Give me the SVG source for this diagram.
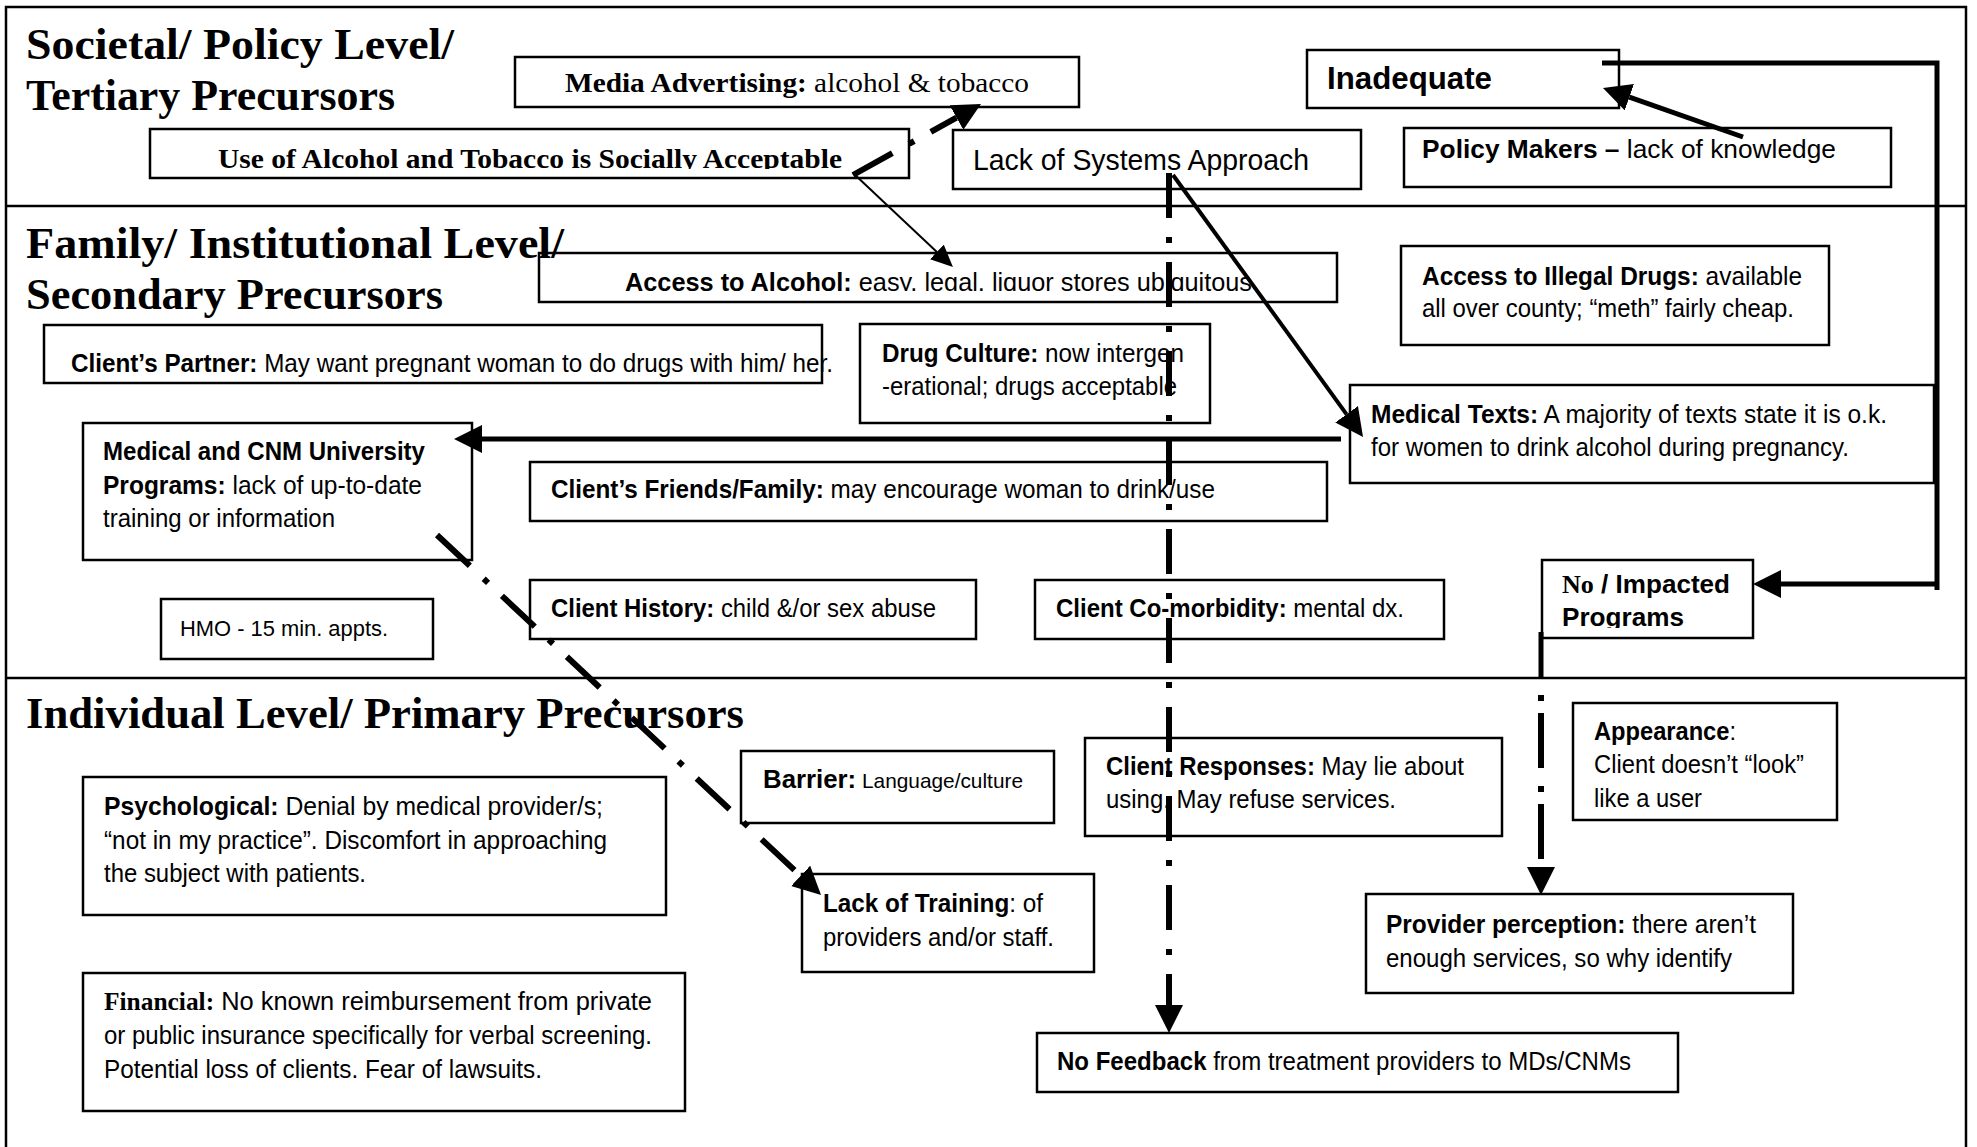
<svg xmlns="http://www.w3.org/2000/svg" width="1977" height="1147" viewBox="0 0 1977 1147">
<style>
.box{fill:#fff;stroke:#000;stroke-width:2.5}
.frame{fill:none;stroke:#000;stroke-width:2.5}
.title{font-family:"Liberation Serif","Times New Roman",serif;font-weight:bold;font-size:44px;fill:#000}
.t{font-family:"Liberation Sans",Arial,sans-serif;font-size:26px;fill:#000}
.b{font-family:"Liberation Sans",Arial,sans-serif;font-weight:bold}
.r{font-family:"Liberation Sans Narrow","Liberation Sans",Arial,sans-serif;font-weight:normal}
.sb{font-family:"Liberation Serif","Times New Roman",serif;font-weight:bold}
.sr{font-family:"Liberation Serif","Times New Roman",serif;font-weight:normal}
.solid{fill:none;stroke:#000;stroke-width:5}
.dd{fill:none;stroke:#000;stroke-width:6;stroke-dasharray:45 19 6 19}
.thin{fill:none;stroke:#000;stroke-width:2}
</style>
<defs>
<marker id="ah" markerUnits="userSpaceOnUse" viewBox="0 0 28 28" markerWidth="28" markerHeight="28" refX="0" refY="14" orient="auto"><path d="M0,0 L28,14 L0,28 z" fill="#000"/></marker>
<marker id="ahs" markerUnits="userSpaceOnUse" viewBox="0 0 22 20" markerWidth="22" markerHeight="20" refX="0" refY="10" orient="auto"><path d="M0,0 L22,10 L0,20 z" fill="#000"/></marker>
<clipPath id="clipUse"><rect x="150" y="129" width="759" height="40"/></clipPath>
<clipPath id="clipAcc"><rect x="539" y="253" width="798" height="38"/></clipPath>
<clipPath id="clipProg"><rect x="1542" y="560" width="211" height="68"/></clipPath>
</defs>

<g id="frame">
<path class="frame" d="M6,1147 V7 H1966 V1147"/>
<line class="frame" x1="6" y1="206" x2="1966" y2="206"/>
<line class="frame" x1="6" y1="678" x2="1966" y2="678"/>
</g>

<g id="n-media"><rect class="box" x="515" y="57" width="564" height="50"/>
<text class="t" x="565" y="92" textLength="464" lengthAdjust="spacingAndGlyphs" style="font-size:28px"><tspan class="sb">Media Advertising:</tspan><tspan class="sr"> alcohol &amp; tobacco</tspan></text></g>

<g id="n-use"><rect class="box" x="150" y="129" width="759" height="49"/>
<text class="t sb" x="218" y="168" textLength="624" lengthAdjust="spacingAndGlyphs" style="font-size:28px" clip-path="url(#clipUse)">Use of Alcohol and Tobacco is Socially Acceptable</text></g>

<g id="n-systems"><rect class="box" x="953" y="130" width="408" height="59"/>
<text class="t r" x="973" y="170" textLength="336" lengthAdjust="spacingAndGlyphs" style="font-size:30px">Lack of Systems Approach</text></g>

<g id="n-inadequate"><rect class="box" x="1307" y="50" width="312" height="58"/>
<text class="t b" x="1327" y="89" textLength="165" lengthAdjust="spacingAndGlyphs" style="font-size:31px">Inadequate</text></g>

<g id="n-policy"><rect class="box" x="1404" y="128" width="487" height="59"/>
<text class="t" x="1422" y="158" textLength="414" lengthAdjust="spacingAndGlyphs"><tspan class="b">Policy Makers – </tspan><tspan class="r">lack of knowledge</tspan></text></g>

<g id="n-access-alcohol"><rect class="box" x="539" y="253" width="798" height="49"/>
<text class="t" x="625" y="291" textLength="627" lengthAdjust="spacingAndGlyphs" clip-path="url(#clipAcc)"><tspan class="b">Access to Alcohol:</tspan><tspan class="r">  easy, legal, liquor stores ubiquitous</tspan></text></g>

<g id="n-access-drugs"><rect class="box" x="1401" y="246" width="428" height="99"/>
<text class="t" x="1422" y="285" textLength="380" lengthAdjust="spacingAndGlyphs"><tspan class="b">Access to Illegal Drugs:</tspan><tspan class="r">  available</tspan></text>
<text class="t r" x="1422" y="317" textLength="372" lengthAdjust="spacingAndGlyphs">all over county; “meth” fairly cheap.</text></g>

<g id="n-partner"><rect class="box" x="44" y="325" width="778" height="58"/>
<text class="t" x="71" y="372" textLength="762" lengthAdjust="spacingAndGlyphs"><tspan class="b">Client’s Partner:</tspan><tspan class="r">  May want pregnant woman to do drugs with him/ her.</tspan></text></g>

<g id="n-drugculture"><rect class="box" x="860" y="324" width="350" height="99"/>
<text class="t" x="882" y="362" textLength="302" lengthAdjust="spacingAndGlyphs"><tspan class="b">Drug Culture:</tspan><tspan class="r">  now intergen</tspan></text>
<text class="t r" x="882" y="395" textLength="295" lengthAdjust="spacingAndGlyphs">-erational; drugs acceptable</text></g>

<g id="n-medtexts"><rect class="box" x="1350" y="385" width="584" height="98"/>
<text class="t" x="1371" y="423" textLength="516" lengthAdjust="spacingAndGlyphs"><tspan class="b">Medical Texts:</tspan><tspan class="r">  A majority of texts state it is o.k.</tspan></text>
<text class="t r" x="1371" y="456" textLength="478" lengthAdjust="spacingAndGlyphs">for women to drink alcohol during pregnancy.</text></g>

<g id="n-cnm"><rect class="box" x="83" y="423" width="389" height="137"/>
<text class="t b" x="103" y="460" textLength="322" lengthAdjust="spacingAndGlyphs">Medical and CNM University</text>
<text class="t" x="103" y="494" textLength="319" lengthAdjust="spacingAndGlyphs"><tspan class="b">Programs:</tspan><tspan class="r">  lack of up-to-date</tspan></text>
<text class="t r" x="103" y="527" textLength="232" lengthAdjust="spacingAndGlyphs">training or information</text></g>

<g id="n-friends"><rect class="box" x="530" y="462" width="797" height="59"/>
<text class="t" x="551" y="498" textLength="664" lengthAdjust="spacingAndGlyphs"><tspan class="b">Client’s Friends/Family:</tspan><tspan class="r">  may encourage woman to drink/use</tspan></text></g>

<g id="n-hmo"><rect class="box" x="161" y="599" width="272" height="60"/>
<text class="t r" x="180" y="636" textLength="208" lengthAdjust="spacingAndGlyphs" style="font-size:22px">HMO - 15 min. appts.</text></g>

<g id="n-history"><rect class="box" x="530" y="580" width="446" height="59"/>
<text class="t" x="551" y="617" textLength="385" lengthAdjust="spacingAndGlyphs"><tspan class="b">Client History:</tspan><tspan class="r"> child &amp;/or sex abuse</tspan></text></g>

<g id="n-comorbidity"><rect class="box" x="1035" y="580" width="409" height="59"/>
<text class="t" x="1056" y="617" textLength="348" lengthAdjust="spacingAndGlyphs"><tspan class="b">Client Co-morbidity:</tspan><tspan class="r"> mental dx.</tspan></text></g>

<g id="n-programs"><rect class="box" x="1542" y="560" width="211" height="78"/>
<text class="t" x="1562" y="593" textLength="168" lengthAdjust="spacingAndGlyphs"><tspan class="sb">No</tspan><tspan class="b"> / Impacted</tspan></text>
<text class="t b" x="1562" y="626" textLength="122" lengthAdjust="spacingAndGlyphs" clip-path="url(#clipProg)">Programs</text></g>

<g id="n-barrier"><rect class="box" x="741" y="751" width="313" height="72"/>
<text class="t" x="763" y="788" textLength="260" lengthAdjust="spacingAndGlyphs"><tspan class="b">Barrier:</tspan><tspan class="r" style="font-size:21px"> Language/culture</tspan></text></g>

<g id="n-responses"><rect class="box" x="1085" y="738" width="417" height="98"/>
<text class="t" x="1106" y="775" textLength="358" lengthAdjust="spacingAndGlyphs"><tspan class="b">Client Responses:</tspan><tspan class="r"> May lie about</tspan></text>
<text class="t r" x="1106" y="808" textLength="290" lengthAdjust="spacingAndGlyphs">using. May refuse services.</text></g>

<g id="n-appearance"><rect class="box" x="1573" y="703" width="264" height="117"/>
<text class="t" x="1594" y="740" textLength="142" lengthAdjust="spacingAndGlyphs"><tspan class="b">Appearance</tspan><tspan class="r">:</tspan></text>
<text class="t r" x="1594" y="773" textLength="210" lengthAdjust="spacingAndGlyphs">Client doesn’t “look”</text>
<text class="t r" x="1594" y="807" textLength="108" lengthAdjust="spacingAndGlyphs">like a user</text></g>

<g id="n-psych"><rect class="box" x="83" y="777" width="583" height="138"/>
<text class="t" x="104" y="815" textLength="499" lengthAdjust="spacingAndGlyphs"><tspan class="b">Psychological:</tspan><tspan class="r">   Denial by medical provider/s;</tspan></text>
<text class="t r" x="104" y="849" textLength="503" lengthAdjust="spacingAndGlyphs">“not in my practice”.  Discomfort in approaching</text>
<text class="t r" x="104" y="882" textLength="262" lengthAdjust="spacingAndGlyphs">the subject with patients.</text></g>

<g id="n-training"><rect class="box" x="802" y="874" width="292" height="98"/>
<text class="t" x="823" y="912" textLength="220" lengthAdjust="spacingAndGlyphs"><tspan class="b">Lack of Training</tspan><tspan class="r">: of</tspan></text>
<text class="t r" x="823" y="946" textLength="231" lengthAdjust="spacingAndGlyphs">providers and/or staff.</text></g>

<g id="n-provider"><rect class="box" x="1366" y="894" width="427" height="99"/>
<text class="t" x="1386" y="933" textLength="370" lengthAdjust="spacingAndGlyphs"><tspan class="b">Provider perception:</tspan><tspan class="r">  there aren’t</tspan></text>
<text class="t r" x="1386" y="967" textLength="346" lengthAdjust="spacingAndGlyphs">enough services, so why identify</text></g>

<g id="n-financial"><rect class="box" x="83" y="973" width="602" height="138"/>
<text class="t" x="104" y="1010" textLength="548" lengthAdjust="spacingAndGlyphs"><tspan class="sb">Financial:</tspan><tspan class="r">  No known reimbursement from private</tspan></text>
<text class="t r" x="104" y="1044" textLength="548" lengthAdjust="spacingAndGlyphs">or public insurance specifically for verbal screening.</text>
<text class="t r" x="104" y="1078" textLength="438" lengthAdjust="spacingAndGlyphs">Potential loss of clients.  Fear of lawsuits.</text></g>

<g id="n-feedback"><rect class="box" x="1037" y="1033" width="641" height="59"/>
<text class="t" x="1057" y="1070" textLength="574" lengthAdjust="spacingAndGlyphs"><tspan class="b">No Feedback</tspan><tspan class="r"> from treatment providers to MDs/CNMs</tspan></text></g>

<g id="titles">
<text class="title" x="26" y="59" textLength="428" lengthAdjust="spacingAndGlyphs">Societal/ Policy Level/</text>
<text class="title" x="26" y="110" textLength="369" lengthAdjust="spacingAndGlyphs">Tertiary Precursors</text>
<text class="title" x="26" y="258" textLength="538" lengthAdjust="spacingAndGlyphs">Family/ Institutional Level/</text>
<text class="title" x="26" y="309" textLength="417" lengthAdjust="spacingAndGlyphs">Secondary Precursors</text>
<text class="title" x="26" y="728" textLength="718" lengthAdjust="spacingAndGlyphs">Individual Level/ Primary Precursors</text>
</g>

<g id="connectors">
<path class="solid" d="M1602,63 H1937 V590"/>
<path class="solid" d="M1937,584 H1781" marker-end="url(#ah)"/>
<path class="solid" d="M1743,137 L1629.4,97.2" marker-end="url(#ah)"/>
<path class="dd" d="M853,175 L956.5,117.6" marker-end="url(#ah)"/>
<path class="thin" d="M853,173 L936.9,251.9" marker-end="url(#ahs)"/>
<path class="solid" style="stroke-width:4" d="M1173,175 L1346.6,414.3" marker-end="url(#ah)"/>
<path class="dd" d="M1169,173 V1005" marker-end="url(#ah)"/>
<path class="solid" d="M1341,439 H482" marker-end="url(#ah)"/>
<path class="dd" d="M437,535 L800.6,875.9" marker-end="url(#ah)"/>
<path class="solid" d="M1541,632 V678"/>
<path class="dd" style="stroke-dasharray:55 18 6 12;stroke-dashoffset:56" d="M1541,678 V867" marker-end="url(#ah)"/>
</g>
</svg>
